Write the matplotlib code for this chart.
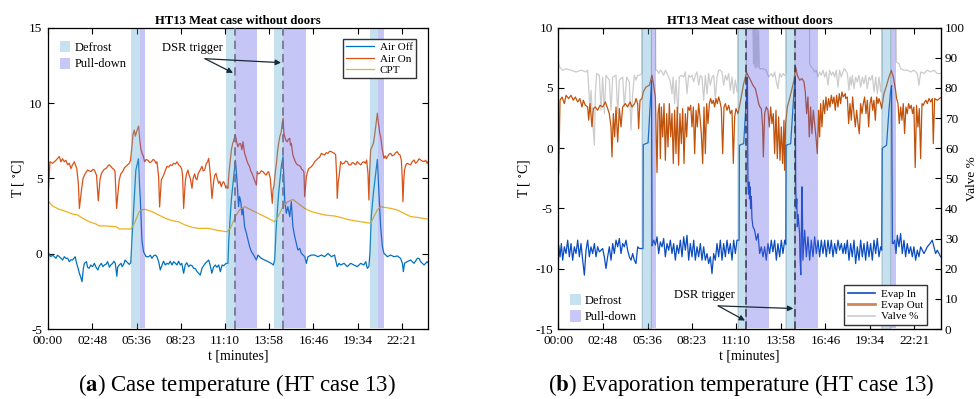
import numpy as np
import matplotlib.pyplot as plt
from matplotlib.patches import Patch
from matplotlib.lines import Line2D

plt.rcParams['font.family'] = ['Liberation Serif', 'DejaVu Serif']
plt.rcParams['mathtext.fontset'] = 'stix'
plt.rcParams['axes.unicode_minus'] = False

# time axis (minutes from 00:00)
tick_pos = [0, 168, 336, 503, 670, 838, 1006, 1174, 1341]
tick_lbl = ['00:00', '02:48', '05:36', '08:23', '11:10', '13:58', '16:46', '19:34', '22:21']

# defrost / pull-down periods [start, end] in minutes
defrost = [(315, 350), (676, 707), (857, 890), (1219, 1251)]
pulldown = [(350, 367), (707, 792), (890, 976), (1251, 1273)]
dsr = [708, 891]

# (a) case temperature, (minute, degC)
air_on = [(0, 3.7), (7.6, 6.1), (17.7, 6.0), (30.3, 6.2), (43, 6.45), (49, 6.1), (55, 6.3), (62, 6.1),
          (68, 6.2), (74.5, 5.9), (81, 6.0), (87, 5.65), (93, 5.9), (100, 6.1), (109, 5.65), (115, 4.7),
          (119, 3.0), (127.5, 4.3), (133, 5.0), (138, 5.2), (144, 5.4), (150, 5.55), (156, 5.5), (163, 5.45),
          (170, 5.6), (176, 5.55), (184, 5.2), (190.7, 3.5), (197, 4.9), (202, 5.3), (207, 5.45), (213, 5.6),
          (220, 5.65), (226, 5.8), (232, 5.9), (238, 5.8), (245, 5.65), (250, 5.6), (254, 5.45), (260, 3.0),
          (265, 4.0), (270, 4.9), (276, 5.3), (283, 5.45), (290, 5.7), (295.5, 5.8), (302, 5.9), (308, 6.0),
          (313, 6.2), (318, 7.1), (322, 7.9), (327, 8.2), (331, 7.8), (336, 8.1), (340, 8.3), (343.5, 8.47),
          (348, 7.5), (352.4, 6.9), (358, 6.6), (361, 6.5), (366, 6.1), (372, 6.25), (379, 6.2), (385, 6.05),
          (392, 6.1), (398, 6.25), (404, 6.2), (409, 6.0), (413, 6.1), (419.4, 5.1), (423, 3.1), (429.5, 4.9),
          (438, 5.2), (444, 5.5), (451, 5.8), (457, 5.75), (464, 5.9), (470, 5.85), (476, 6.0), (483, 5.95),
          (489, 6.1), (495, 5.9), (501.5, 5.8), (507, 5.6), (510, 5.2), (514, 3.0), (520.4, 4.8), (525, 5.3),
          (530.5, 5.55), (535, 5.2), (539.3, 5.0), (545.7, 4.34), (550, 5.0), (555.8, 5.3), (560, 5.0),
          (564.6, 4.9), (569, 5.3), (573.5, 5.45), (578, 5.6), (583.5, 5.8), (588, 5.5), (593.7, 5.55),
          (600, 6.0), (605, 6.1), (609, 6.33), (615, 5.3), (621.4, 3.67), (627.8, 4.8), (632, 5.2),
          (636.6, 5.33), (641, 5.0), (646.7, 4.67), (651, 4.8), (656.8, 4.45), (661, 4.7), (665.6, 4.78),
          (670, 4.6), (674.5, 4.34), (678, 4.5), (682, 4.34), (686, 5.4), (691, 6.2), (695, 6.9), (699.8, 7.3),
          (705, 7.6), (710, 7.9), (715, 7.4), (720, 7.1), (725, 7.3), (730, 7.3), (735, 6.9), (739, 7.43),
          (745, 6.66), (750, 6.4), (755, 6.1), (760, 5.9), (764, 5.78), (768, 5.5), (773, 5.33), (778, 5.1),
          (783, 4.89), (789.5, 4.56), (793, 5.44), (797, 5.3), (802, 5.33), (808, 5.5), (815, 5.44), (821, 5.3),
          (827, 5.22), (832, 5.4), (836, 5.44), (842.5, 5.0), (846, 4.12), (850, 3.34), (853, 4.3), (856, 4.45),
          (860, 5.2), (865, 5.89), (870, 6.8), (874, 7.32), (879, 7.8), (884, 8.1), (887, 8.6), (890.5, 8.98),
          (894, 8.0), (897, 7.77), (902, 7.5), (907, 7.43), (911, 7.6), (916, 7.66), (919, 7.2), (922, 7.32),
          (928, 6.55), (933, 6.3), (937, 6.11), (942, 5.95), (947, 5.89), (952, 5.85), (957, 5.78), (961, 5.6),
          (966, 5.55), (970, 5.4), (972.6, 3.78), (976, 4.5), (979, 5.11), (983, 5.4), (988, 5.66), (993, 5.7),
          (998, 5.78), (1004, 5.9), (1010.5, 6.11), (1016, 6.2), (1023, 6.33), (1029, 6.4), (1036, 6.66),
          (1042, 6.6), (1048, 6.55), (1054, 6.7), (1061, 6.66), (1067, 6.8), (1074, 6.77), (1080, 6.7),
          (1086, 6.66), (1090, 6.55), (1094, 5.11), (1096, 3.67), (1100, 4.8), (1103, 5.11), (1109, 6.11),
          (1115, 5.95), (1122, 6.0), (1128, 6.15), (1134, 6.11), (1140, 5.9), (1147, 5.89), (1153, 6.05),
          (1159, 6.0), (1166, 5.9), (1172, 6.11), (1178, 6.0), (1185, 5.89), (1191, 6.05), (1197, 6.11),
          (1203, 6.0), (1207.5, 6.22), (1212.5, 5.33), (1216, 3.56), (1219, 5.5), (1222.6, 6.88), (1228, 7.1),
          (1233, 7.32), (1238, 7.9), (1241.6, 8.43), (1245, 8.9), (1248, 9.32), (1251, 8.8), (1254, 8.43),
          (1257, 8.0), (1260.5, 7.77), (1264, 7.3), (1267, 6.88), (1270, 6.6), (1273, 6.33), (1278, 6.5),
          (1282, 6.3), (1286, 6.44), (1292, 6.6), (1298.4, 6.66), (1304, 6.5), (1311, 6.55), (1317, 6.7),
          (1323.7, 6.77), (1329, 6.6), (1334, 6.55), (1339, 6.2), (1342.6, 4.89), (1345, 3.45), (1348, 4.8),
          (1351, 5.55), (1356, 5.9), (1361, 6.0), (1367, 5.95), (1374, 5.89), (1380, 6.1), (1387, 6.22),
          (1393, 6.0), (1399.5, 6.11), (1406, 6.3), (1412, 6.22), (1418, 6.15), (1425, 6.11), (1431, 6.2),
          (1437, 6.0), (1440, 6.1)]

air_off = [(0, -1.7), (2.5, 0.02), (11, -0.2), (17.7, -0.09), (24, -0.2), (30.3, -0.31), (36, -0.1), (43, -0.2),
           (49, -0.3), (55.5, -0.42), (62, -0.2), (68, -0.31), (74.5, -0.3), (81, -0.53), (87, -0.4), (93, -0.42),
           (103, -0.2), (108.6, -0.64), (113, -0.9), (119, -1.3), (125, -1.6), (129, -1.86), (134, -1.0),
           (138, -0.64), (146, -0.53), (150, -0.9), (156, -0.97), (162, -0.75), (169, -0.86), (176, -0.64),
           (182, -0.9), (189, -1.08), (195, -0.8), (202, -0.64), (208, -0.86), (214, -0.75), (220, -0.7),
           (226, -0.53), (233, -0.9), (238, -0.75), (245, -0.64), (250, -0.5), (255, -0.64), (261, -1.5),
           (264, -0.9), (270, -0.75), (277, -0.64), (281, -0.86), (287, -0.7), (292, -0.42), (302, -0.6),
           (308, -0.71), (314, -0.6), (318, 0.9), (325, 3.12), (333, 5.55), (339, 6.0), (343, 6.3), (347, 4.5),
           (350, 3.56), (356, 0.9), (362, 0.13), (366, 0.0), (372, -0.2), (381.5, -0.2), (388, -0.1),
           (394, -0.31), (400, -0.15), (407, -0.09), (413, -0.2), (419.4, -0.53), (425.6, -1.08), (434.5, -0.64),
           (438, -0.5), (444.6, -0.75), (451, -0.64), (457, -0.7), (463, -0.5), (470, -0.75), (476, -0.53),
           (483, -0.64), (489, -0.75), (495, -0.5), (501.5, -0.75), (507, -0.64), (514, -1.3), (520, -0.75),
           (526, -0.6), (533, -0.86), (539, -0.75), (546, -0.8), (552, -0.97), (559, -1.0), (565, -1.19),
           (577, -1.42), (583.5, -0.97), (590, -0.8), (596, -0.64), (609, -0.42), (615, -0.8), (621, -1.3),
           (627, -0.9), (634, -0.75), (640, -0.9), (647, -0.75), (653, -1.2), (660, -0.75), (666, -0.8),
           (675, -0.64), (682, -0.64), (685, 0.9), (694.7, 3.56), (703.5, 5.1), (710, 6.2), (716, 4.9),
           (720, 3.8), (722, 3.12), (726, 3.8), (731, 3.4), (735, 2.57), (739, 3.0), (745, 1.8), (752, 1.35),
           (758, 0.91), (764, 0.47), (771, 0.13), (777, -0.02), (783, -0.2), (789.5, -0.42), (796, -0.09),
           (808, -0.31), (821, -0.42), (834, -0.53), (846, -0.64), (854, -0.75), (859, -0.42), (865, 1.79),
           (874, 4.01), (884, 5.78), (890.5, 6.44), (897, 3.56), (903, 2.68), (909, 3.12), (916, 2.46),
           (922, 3.45), (928, 1.79), (935, 1.13), (941, 0.69), (947, 0.24), (954, 0.35), (960, 0.02),
           (973, -0.2), (979, -0.64), (985, -0.2), (998, -0.09), (1010, -0.09), (1023, -0.2), (1036, -0.09),
           (1048, -0.2), (1061, 0.02), (1074, -0.2), (1086, -0.09), (1090, -0.42), (1096, -0.86), (1103, -0.64),
           (1109, -0.75), (1122, -0.64), (1134, -0.86), (1147, -0.64), (1159, -0.75), (1172, -0.86),
           (1185, -0.64), (1197, -0.75), (1204, -0.53), (1210, -0.97), (1216, -0.86), (1220, 0.02),
           (1225, 2.46), (1233, 4.01), (1241.6, 5.33), (1248, 6.26), (1254, 4.01), (1260.5, 1.79), (1267, 0.47),
           (1273, 0.02), (1280, -0.09), (1286, -0.2), (1298, -0.09), (1311, -0.2), (1324, -0.15), (1336, -0.31),
           (1343, -0.64), (1346.5, -1.19), (1351, -0.64), (1361, -0.53), (1374, -0.42), (1387, -0.64),
           (1399.5, -0.31), (1406, -0.31), (1412, -0.53), (1425, -0.75), (1437, -0.53), (1440, -0.6)]

cpt = [(0, 3.5), (17.7, 3.16), (43, 2.94), (68, 2.8), (93, 2.63), (112, 2.57), (131.3, 2.35), (156.6, 2.12),
       (182, 1.97), (194.5, 1.84), (220, 1.84), (258, 1.79), (270, 1.64), (314.5, 1.64), (327, 2.0), (346, 2.8),
       (361, 2.94), (369, 2.94), (394, 2.79), (419.4, 2.57), (445, 2.35), (470, 2.19), (495, 2.12), (520, 1.9),
       (546, 1.75), (571, 1.68), (609, 1.68), (647, 1.53), (678, 1.46), (691, 1.68), (710, 2.46), (726, 2.9),
       (733, 3.01), (745, 3.12), (758, 3.01), (783, 2.79), (809, 2.57), (834, 2.35), (859, 2.12), (872, 2.46),
       (890.5, 3.12), (909, 3.45), (928, 3.6), (947, 3.34), (972.6, 3.01), (998, 2.79), (1023, 2.68),
       (1048, 2.57), (1086, 2.5), (1109, 2.41), (1134, 2.28), (1159, 2.19), (1185, 2.12), (1210, 2.06),
       (1223, 2.01), (1235, 2.46), (1248, 2.9), (1260.5, 3.12), (1273, 3.08), (1298, 3.01), (1324, 2.9),
       (1349, 2.68), (1374, 2.46), (1399.5, 2.41), (1437, 2.3), (1440, 2.3)]

# (b) evaporation temperature (minute, degC) and valve opening (minute, %)
evap_in = [(0, -9.84), (1.3, -8.04), (6.4, -9.01), (11.4, -7.91), (16.4, -9.29), (22.7, -8.18), (29, -8.74),
           (35.2, -7.63), (41.5, -9.01), (47.8, -7.91), (54, -9.29), (60.3, -8.18), (66.6, -8.74), (72.9, -7.63),
           (79.2, -9.01), (85.4, -7.91), (91.7, -9.29), (98, -10.53), (104.3, -8.46), (110.5, -7.63),
           (116.8, -9.01), (123, -8.18), (129.3, -8.74), (135.6, -7.91), (141.9, -9.01), (148.2, -8.18),
           (154.4, -8.6), (167, -8.32), (173.3, -9.01), (179.5, -9.98), (185.8, -9.01), (192, -8.18),
           (198.4, -9.29), (204.7, -7.91), (210.9, -8.74), (217.2, -7.63), (223.5, -8.18), (229.8, -7.49),
           (236, -8.74), (242.3, -7.91), (248.6, -8.18), (254.9, -7.63), (261, -8.46), (267.4, -9.01),
           (273.7, -9.29), (280, -8.74), (286.2, -9.29), (292.5, -9.57), (298.8, -8.18), (305, -8.32),
           (319, -8.32), (320, 0.3), (338, 0.45), (345, 3.3), (351, 5.6), (353, -8.1), (355, -7.91),
           (359, -7.63), (365.4, -8.04), (371.6, -7.35), (377.9, -8.74), (384.2, -7.77), (390.5, -8.18),
           (396.7, -7.49), (403, -9.01), (409.3, -7.91), (415.5, -8.46), (421.8, -7.63), (428, -8.74),
           (434.4, -7.91), (440.7, -9.29), (447, -8.04), (453.2, -8.74), (459.5, -7.63), (465.8, -9.01),
           (472, -7.35), (478.3, -8.46), (484.6, -7.22), (490.9, -9.29), (497.1, -7.91), (503.4, -9.01),
           (509.7, -7.63), (516, -9.29), (522.2, -8.18), (528.5, -9.01), (534.8, -7.91), (541, -9.29),
           (547.3, -8.18), (553.6, -9.29), (559.9, -8.74), (566.1, -9.57), (572.4, -9.01), (578.7, -10.4),
           (585, -8.74), (591.2, -9.29), (597.5, -7.91), (603.8, -9.01), (610, -7.63), (616.4, -9.29),
           (622.6, -7.91), (629, -9.01), (635.2, -7.63), (641.5, -8.74), (647.7, -7.91), (654, -9.29),
           (660.3, -7.63), (666.6, -8.74), (672.8, -7.63), (681, -7.63), (682, 0.25), (698, 0.38), (705, 3.0),
           (710, 4.6), (712, 5.9), (714, -2.9), (716, -3.8), (718, -2.8), (720, -4.2), (722, -3.2), (724, -5.0),
           (726.8, -4.0), (729, -5.8), (733, -6.52), (739, -6.8), (745.6, -7.63), (752, -7.08), (758, -8.74),
           (764.4, -8.18), (770.7, -9.01), (777, -8.18), (783, -9.29), (789.5, -7.91), (795.8, -8.74),
           (802, -7.63), (808, -8.6), (814.6, -7.63), (821, -9.29), (827, -7.91), (833.5, -9.01), (839.7, -7.63),
           (846, -8.74), (852.3, -7.63), (857, -8.0), (858, 0.25), (875, 0.38), (887, 4.53), (892, 6.0),
           (894, -3.2), (896, -5.0), (898, -4.2), (900, -6.52), (903, -5.5), (908.6, -7.08), (910, -9.0),
           (913, -10.5), (915, -7.5), (917, -3.2), (918.5, -3.5), (921, -9.29), (927.6, -6.8), (934, -9.01),
           (940, -7.35), (946.4, -9.29), (952.7, -7.63), (959, -9.01), (965.2, -7.35), (971.5, -8.74),
           (977.8, -7.63), (984, -9.01), (990.3, -7.63), (996.6, -8.74), (1003, -7.63), (1009, -9.01),
           (1015.5, -7.63), (1021.7, -8.74), (1028, -7.63), (1034.3, -9.01), (1040.6, -7.91), (1046.8, -8.74),
           (1053, -7.63), (1059.4, -8.46), (1065.6, -7.91), (1072, -8.74), (1078, -7.91), (1082, -8.74),
           (1088.3, -7.63), (1094.5, -9.29), (1100.8, -7.91), (1107, -9.01), (1113.4, -7.63), (1119.6, -9.57),
           (1126, -8.18), (1132.2, -9.29), (1138.5, -7.63), (1144.7, -9.01), (1151, -7.91), (1157.3, -9.29),
           (1163.6, -7.77), (1169.8, -9.01), (1176, -7.91), (1182.4, -9.29), (1188.7, -7.63), (1195, -8.74),
           (1201.2, -7.49), (1207.5, -9.01), (1213.7, -8.18), (1218, -8.46), (1220, 0.0), (1236, 0.25),
           (1245, 3.15), (1251, 4.67), (1255, 5.2), (1258, -7.91), (1261.4, -7.91), (1266.5, -7.63),
           (1271.5, -8.74), (1276.5, -7.22), (1282.8, -8.18), (1289, -7.08), (1295.3, -8.74), (1301.6, -7.63),
           (1307.8, -9.01), (1314, -7.91), (1320.4, -8.74), (1326.7, -8.18), (1333, -9.01), (1339, -8.18),
           (1345.5, -9.29), (1351.8, -8.46), (1358, -9.01), (1364.4, -8.18), (1377, -8.74), (1389.5, -8.18),
           (1399.5, -7.91), (1408, -7.63), (1414.5, -8.18), (1420.8, -8.74), (1427, -8.46), (1433.4, -8.74),
           (1440, -9.01)]

evap_out = [(0, -2.35), (1.5, -2.0), (6.4, 3.98), (13.9, 4.25), (22.7, 3.7), (29, 4.39), (39, 4.12), (47.8, 4.39),
            (56.6, 3.98), (64, 4.25), (72.9, 3.84), (81, 4.12), (89, 3.42), (94.2, 3.98), (101.7, 3.56),
            (110.5, 3.42), (114.3, 2.32), (119.3, 3.7), (126.8, 1.77), (131.9, 3.29), (139.4, 3.42),
            (148.2, 3.15), (157, 3.56), (167, 3.42), (177, 3.84), (185.8, 3.29), (192, 2.87), (198.4, 1.77),
            (202, -0.72), (207.2, 2.87), (212.2, 0.94), (217.2, 3.42), (223.5, 0.52), (229.8, 3.29), (236, 1.77),
            (242.3, 3.42), (252.3, 3.7), (261, 3.42), (269.9, 3.84), (277.4, 3.42), (287.5, 3.7), (292.5, 4.12),
            (298.8, 3.7), (302.5, 1.63), (307.6, 3.98), (315, 4.12), (320, 4.67), (330, 5.08), (342.7, 5.22),
            (352.7, 6.05), (359, 5.22), (365.4, 4.25), (371.6, -2.02), (375.4, 2.87), (380.4, 3.7),
            (384.2, -0.86), (388, 3.42), (393, 0.94), (398, 3.7), (403, -1.0), (408, 2.87), (413, 0.11),
            (418, 3.7), (423, 0.94), (428, 2.87), (433, -1.27), (438, 3.15), (443, -0.45), (448, 3.42),
            (453, -1.41), (458, 2.87), (463.2, 0.38), (468.3, 3.29), (473.3, -1.27), (478.3, 2.87), (483.3, 0.94),
            (488.3, 3.42), (493.4, 3.15), (498.4, 3.56), (503.4, 1.77), (508.4, 3.42), (513.4, -0.45),
            (518.5, 3.15), (523.5, 1.77), (528.5, 3.7), (533.5, 2.6), (538.5, 1.21), (543.6, -1.27),
            (548.6, 3.42), (553.6, -0.45), (558.6, 3.7), (563.6, 2.04), (568.7, 3.7), (573.7, 4.12),
            (578.7, 3.7), (583.7, 3.98), (588.7, 3.42), (593.8, 4.12), (598.8, 3.7), (603.8, 4.25), (608.8, 3.84),
            (613.8, 3.29), (618.9, -0.45), (623.9, 3.42), (628.9, 3.7), (635.2, 3.15), (641.5, 3.56),
            (647.7, 2.87), (654, 3.15), (659, -1.27), (664, 2.6), (669, 3.29), (676.6, 2.87), (685.4, 3.84),
            (698, 5.36), (709, 6.3), (714.2, 6.05), (724, 5.64), (733, 5.22), (741.8, 4.95), (749.3, 4.25),
            (754.4, 3.7), (759.4, 3.42), (764.4, 3.29), (769.4, 1.77), (772, -0.72), (777, 2.87), (783.2, 3.42),
            (789.5, 3.15), (794.5, 1.77), (799.5, 3.42), (804.6, 2.04), (809.6, 2.87), (814.6, -0.45),
            (819.6, 3.15), (824.6, -0.86), (829.7, 2.6), (834.7, -1.0), (839.7, 1.77), (844.7, -1.27),
            (849.7, 2.32), (852, -1.83), (856, 2.0), (862.3, 3.42), (871, 4.12), (879.9, 4.95), (887.4, 5.64),
            (893.7, 6.74), (900, 6.05), (908.7, 5.64), (917.5, 5.78), (925, 5.5), (930, 4.67), (935, 2.87),
            (940, 4.25), (945, 0.94), (950, 3.42), (955, 1.21), (960.2, 3.15), (965.2, 2.04), (970.2, 0.94),
            (975.2, -0.45), (980.3, 3.15), (984, 0.94), (987.8, 3.7), (992.8, 1.77), (997.8, 3.98), (1002.9, 2.87),
            (1007.9, 4.25), (1012.9, 3.15), (1017.9, 4.12), (1022.9, 3.42), (1028, 4.39), (1033, 3.7),
            (1038, 4.25), (1043, 3.15), (1048, 4.39), (1053, 3.42), (1058, 4.53), (1063, 3.7), (1068, 4.67),
            (1073, 4.25), (1080.7, 4.53), (1082, 4.12), (1088.3, 4.25), (1093.3, 2.04), (1098.3, 3.7),
            (1103.3, 2.32), (1108.3, 4.25), (1113.4, 2.87), (1118.4, 1.77), (1123.4, 3.15), (1128.4, 2.04),
            (1133.4, 1.21), (1138.5, 3.7), (1143.5, 2.87), (1148.5, 3.7), (1153.5, 4.25), (1158.5, 2.87),
            (1163.6, 3.98), (1168.6, 1.77), (1173.6, 3.7), (1178.6, 4.25), (1183.6, 3.15), (1188.6, 3.98),
            (1193.7, 2.32), (1198.7, 4.25), (1203.7, 3.7), (1207.5, 4.12), (1213.7, 3.7), (1217.5, 3.29),
            (1226.3, 4.53), (1236.3, 5.22), (1245, 5.91), (1254, 6.46), (1261.4, 5.91), (1269, 4.95),
            (1274, 4.12), (1279, 3.7), (1284, 2.04), (1289, 3.42), (1294, 2.32), (1299, 3.7), (1304, 1.21),
            (1309, 3.42), (1314, 2.87), (1319, 3.7), (1324, 3.29), (1329, 3.56), (1334, 2.87), (1339, 3.42),
            (1344, -1.6), (1349, 3.56), (1354.3, 1.77), (1359.3, 3.29), (1364.4, -0.86), (1369.4, 3.7),
            (1374.4, 3.56), (1379.4, 3.84), (1384.4, 3.98), (1389.4, 3.7), (1395.7, 4.12), (1402, 3.84),
            (1408.3, 4.12), (1412, 0.38), (1417, 4.12), (1427, 3.98), (1440, 4.2)]

valve = [(0, 88.8), (3.9, 87.0), (16.4, 85.9), (29, 86.4), (47.8, 85.9), (66.6, 85.3), (85.4, 85.9),
         (104.3, 85.3), (110.5, 85.9), (114.3, 80.3), (119.3, 72.6), (123, 79.2), (129.3, 69.3), (135.6, 61.0),
         (139.4, 78.1), (144.4, 84.8), (154.4, 84.2), (160.7, 72.6), (167, 83.6), (173.3, 71.5), (179.5, 84.2),
         (192, 82.6), (198.4, 72.6), (204.7, 83.6), (217.2, 84.2), (223.5, 71.5), (229.8, 82.6), (242.3, 83.6),
         (248.6, 73.7), (257.4, 83.6), (267.4, 82.0), (273.7, 66.0), (280, 78.1), (286.2, 84.2), (292.5, 82.6),
         (298.8, 84.2), (305, 84.2), (315, 84.8), (315.5, 100), (316, 0), (350, 0), (350.5, 100), (366, 100),
         (367, 85.9), (371.6, 85.9), (377.9, 84.8), (384.2, 85.9), (390.5, 85.3), (396.7, 84.2), (403, 85.9),
         (409.3, 84.8), (415.5, 83.6), (421.8, 82.0), (428, 78.1), (432, 83.6), (438, 74.8), (443.2, 82.6),
         (450.7, 71.5), (455.7, 83.6), (463.2, 84.2), (472, 83.6), (478.3, 85.3), (484.6, 78.1), (490.9, 84.2),
         (497.1, 83.6), (503.4, 84.2), (509.7, 82.0), (516, 84.2), (522.2, 85.3), (528.5, 80.9), (534.8, 84.2),
         (541, 83.6), (547.3, 75.9), (553.6, 84.2), (559.9, 78.1), (566.1, 84.8), (572.4, 80.9), (578.7, 83.6),
         (585, 84.2), (591.2, 76.5), (597.5, 83.6), (603.8, 85.9), (610, 85.9), (616.4, 85.3), (622.6, 80.9),
         (628.9, 84.2), (635.2, 82.6), (641.5, 84.8), (647.7, 79.2), (654, 83.6), (660.3, 78.1), (666.6, 82.6),
         (672.8, 78.7), (676, 83.0), (676.5, 100), (677, 0), (707, 0), (707.5, 100), (733, 100), (735, 88),
         (737, 100), (740, 87), (742, 100), (745, 86.5), (748, 100), (751, 87), (754, 99), (757, 86.4),
         (770, 86.4), (783, 85.9), (792, 83.6), (802, 84.8), (808, 83.6), (814.6, 85.3), (821, 82.0),
         (827, 79.8), (833.5, 84.8), (840, 83.6), (846, 84.8), (852, 84.2), (856.5, 84.8), (857, 100),
         (857.5, 0), (890, 0), (890.5, 100), (946, 100), (946.5, 88.1), (952.7, 87.0), (959, 86.4),
         (965.2, 85.3), (971.5, 85.9), (977.8, 83.6), (984, 85.3), (990.3, 84.2), (996.6, 85.9), (1003, 83.6),
         (1009, 85.3), (1015.5, 80.9), (1021.7, 85.9), (1028, 84.2), (1034.3, 85.3), (1040.6, 83.6),
         (1046.8, 85.9), (1053, 80.3), (1059.4, 85.9), (1065.6, 83.6), (1072, 85.3), (1075.7, 86.4),
         (1082, 85.9), (1088.3, 84.8), (1094.5, 79.2), (1098.3, 83.6), (1103.3, 80.9), (1107, 84.2),
         (1113.4, 79.8), (1119.6, 83.6), (1126, 82.0), (1132.2, 84.2), (1138.5, 80.3), (1144.7, 83.6),
         (1151, 81.4), (1157.3, 84.2), (1163.6, 79.8), (1169.8, 83.6), (1176, 82.6), (1182.4, 84.2),
         (1188.7, 78.7), (1195, 83.6), (1201.2, 78.1), (1207.5, 83.6), (1213.7, 78.7), (1218, 83.6),
         (1218.5, 100), (1219, 0), (1251, 0), (1251.5, 100), (1272, 100), (1273, 88.6), (1282.8, 88.1),
         (1289, 86.4), (1301.6, 85.9), (1314, 85.9), (1326.7, 85.3), (1339, 85.9), (1351.8, 84.8),
         (1358, 80.9), (1364.4, 85.3), (1377, 84.8), (1389.5, 85.9), (1402, 85.3), (1414.5, 85.9),
         (1427, 84.8), (1440, 84.8)]

c_defrost = (0.35, 0.66, 0.82)
c_pull = (0.36, 0.36, 0.91)
span_alpha = 0.35
arrow_col = '#1a2a33'


def xy(pairs):
    a = np.array(pairs)
    return a[:, 0], a[:, 1]


def style_axes(ax):
    ax.set_xlim(0, 1440)
    ax.set_xticks(tick_pos)
    ax.set_xticklabels(tick_lbl)
    ax.tick_params(direction='in', length=4, labelsize=9.5, width=0.8, pad=4)
    for s in ax.spines.values():
        s.set_linewidth(0.9)
    ax.set_xlabel('t [minutes]', fontsize=10, labelpad=2)
    ax.set_ylabel(r'T [ $^{\circ}$C]', fontsize=10, labelpad=2)
    ax.set_title('HT13 Meat case without doors', fontsize=9.1, fontweight='bold', pad=3)


def draw_spans(ax):
    for a, b in defrost:
        ax.axvspan(a, b, ymin=0.004, ymax=0.994, color=c_defrost, alpha=span_alpha, lw=0, zorder=5)
    for a, b in pulldown:
        ax.axvspan(a, b, ymin=0.004, ymax=0.994, color=c_pull, alpha=span_alpha, lw=0, zorder=5)


def dsr_arrows(ax, tail, heads):
    for h in heads:
        ax.annotate('', xy=h, xytext=tail,
                    arrowprops=dict(arrowstyle='-|>', color=arrow_col, lw=0.9, shrinkA=0, shrinkB=0,
                                    mutation_scale=8), zorder=8)


span_handles = [Patch(facecolor='#c6e1ef', label='Defrost'), Patch(facecolor='#c8c8f7', label='Pull-down')]

fig = plt.figure(figsize=(9.79, 3.99), dpi=100)

# ---- (a) case temperature
ax1 = fig.add_axes([0.049, 0.1754, 0.3882, 0.7552])
t, v = xy(air_off)
l1, = ax1.plot(t, v, color='#0072BD', lw=0.9, label='Air Off')
t, v = xy(air_on)
l2, = ax1.plot(t, v, color='#D95319', lw=0.9, label='Air On')
t, v = xy(cpt)
l3, = ax1.plot(t, v, color='#EDB120', lw=0.9, label='CPT')
draw_spans(ax1)
for d in dsr:
    ax1.axvline(d, color='#6f6f90', ls=(0, (5, 3)), lw=1.2, zorder=6)
ax1.set_ylim(-5, 15)
ax1.set_yticks([-5, 0, 5, 10, 15])
ax1.tick_params(top=True, right=True)
style_axes(ax1)

leg = ax1.legend(handles=[l1, l2, l3], loc='upper right', bbox_to_anchor=(0.968, 0.962), fontsize=8,
                 fancybox=False, edgecolor='#333333', handlelength=2.5, borderpad=0.3, labelspacing=0.15,
                 handletextpad=0.5, borderaxespad=0, framealpha=1)
leg.get_frame().set_linewidth(1.0)
ax1.add_artist(leg)
ax1.legend(handles=span_handles, loc='upper left', bbox_to_anchor=(0.008, 0.985), fontsize=9, frameon=False,
           handlelength=0.85, handleheight=1.0, labelspacing=0.3, handletextpad=0.35, borderaxespad=0.3)

ax1.text(549, 13.65, 'DSR trigger', fontsize=9, ha='center', va='center')
dsr_arrows(ax1, (595, 12.94), [(701, 12.0), (883, 12.68)])

# ---- (b) evaporation temperature
ax2 = fig.add_axes([0.5703, 0.1754, 0.3906, 0.7552])
ax3 = ax2.twinx()
ax2.set_zorder(ax3.get_zorder() + 1)
ax2.patch.set_visible(False)

t, v = xy(valve)
ax3.plot(t, v, color='#cccccc', lw=0.9)
ax3.set_ylim(0, 100)
ax3.set_yticks(range(0, 101, 10))
ax3.tick_params(direction='in', length=4, labelsize=9.5, width=0.8, pad=3)
ax3.set_ylabel('Valve %', fontsize=9.5, labelpad=1)

t, v = xy(evap_out)
ax2.plot(t, v, color='#C0530C', lw=0.9)
t, v = xy(evap_in)
ax2.plot(t, v, color='#0B4DC0', lw=0.9)
draw_spans(ax2)
for d in dsr:
    ax2.axvline(d, color='#353550', ls=(0, (5, 3)), lw=1.1, zorder=6)
ax2.set_ylim(-15, 10)
ax2.set_yticks([-15, -10, -5, 0, 5, 10])
ax2.tick_params(top=True)
style_axes(ax2)

line_handles = [Line2D([], [], color='#0B4DC0', lw=1.2, label='Evap In'),
                Line2D([], [], color='#C0530C', lw=2.0, alpha=0.7, label='Evap Out'),
                Line2D([], [], color='#cccccc', lw=1.2, label='Valve %')]
leg2 = ax2.legend(handles=line_handles, loc='lower right', bbox_to_anchor=(0.963, 0.014), fontsize=8,
                  fancybox=False, edgecolor='#333333', handlelength=2.5, borderpad=0.3, labelspacing=0.15,
                  handletextpad=0.5, borderaxespad=0, framealpha=1)
leg2.get_frame().set_linewidth(1.0)
leg2.set_zorder(10)
ax2.add_artist(leg2)
ax2.legend(handles=span_handles, loc='lower left', bbox_to_anchor=(0.008, -0.01), fontsize=9, frameon=False,
           handlelength=0.85, handleheight=1.0, labelspacing=0.3, handletextpad=0.35, borderaxespad=0.3)

ax2.text(549, -12.16, 'DSR trigger', fontsize=9, ha='center', va='center')
dsr_arrows(ax2, (602, -13.08), [(703, -14.3), (885, -13.3)])

fig.text(0.242, 0.035, r'($\mathbf{a}$) Case temperature (HT case 13)', ha='center', va='center', fontsize=16.5)
fig.text(0.757, 0.035, r'($\mathbf{b}$) Evaporation temperature (HT case 13)', ha='center', va='center',
         fontsize=16.5)

fig.savefig('out.png', dpi=100)
